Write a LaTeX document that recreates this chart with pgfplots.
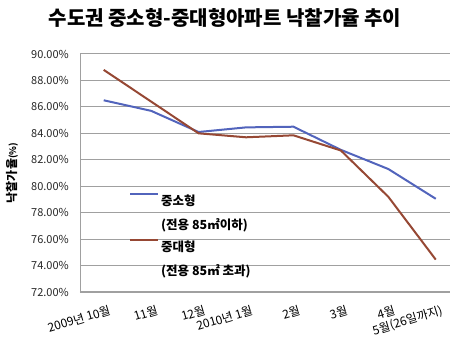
\documentclass[border=0pt]{standalone}
\usepackage{pgfplots}
\pgfplotsset{compat=1.18}
\usepackage{fontspec}
\setmainfont{Noto Sans CJK KR}
\definecolor{sblue}{RGB}{82,100,188}
\definecolor{sbrown}{RGB}{150,72,52}
\definecolor{gridc}{RGB}{160,160,160}
\begin{document}
\begin{tikzpicture}
\path[use as bounding box] (-80pt,-66pt) rectangle (370pt,292pt);
\begin{axis}[
  at={(0pt,0pt)}, anchor=south west,
  scale only axis, width=370pt, height=238pt,
  xmin=-0.5, xmax=7.3, ymin=72, ymax=90,
  axis x line*=bottom, axis y line*=left,
  axis line style={gridc, line width=0.9pt, -},
  ytick={72,74,...,90},
  yticklabel={\pgfmathprintnumber[fixed,fixed zerofill,precision=2]{\tick}\%},
  /pgf/number format/assume math mode=true,
  ymajorgrids, grid style={gridc, line width=1pt},
  major tick length=0pt,
  xtick={0,...,7},
  xticklabels={2009년 10월,11월,12월,2010년 1월,2월,3월,4월,5월(26일까지)},
  xticklabel style={rotate=17, anchor=north east, inner sep=0pt, yshift=-13pt, xshift=1pt, font=\fontsize{12}{13}\selectfont},
  yticklabel style={font=\fontsize{11}{13}\selectfont, text=black!85, inner sep=0pt, xshift=-11pt},
  title={수도권 중소형-중대형아파트 낙찰가율 추이},
  title style={at={(rel axis cs:0.392,1)}, anchor=center, yshift=30pt, font=\fontsize{20}{22}\bfseries\selectfont},
  ylabel={낙찰가율{\fontsize{9}{10}\selectfont(\%)}},
  ylabel style={at={(rel axis cs:0,0.5)}, anchor=center, yshift=68pt, font=\fontsize{12}{14}\bfseries\selectfont},
  legend style={at={(rel axis cs:0,1)}, anchor=north west, xshift=49pt, yshift=-139pt, draw=none, fill=none,
    font=\fontsize{12.5}{15}\bfseries\selectfont, cells={align=left, anchor=west}, inner sep=0pt},
  legend style={row sep=6pt},
  legend image code/.code={\draw[#1] (0pt,19pt) -- (28pt,19pt);},
  every axis plot/.append style={line width=2pt},
]
\addplot[sblue] coordinates {(0,86.5) (1,85.7) (2,84.1) (3,84.45) (4,84.5) (5,82.75) (6,81.3) (7,79.05)};
\addlegendentry{중소형\\[9pt](전용 85㎡이하)}
\addplot[sbrown] coordinates {(0,88.8) (1,86.4) (2,84.0) (3,83.7) (4,83.85) (5,82.7) (6,79.2) (7,74.45)};
\addlegendentry{중대형\\[9pt](전용 85㎡ 초과)}
\end{axis}
\end{tikzpicture}
\end{document}
